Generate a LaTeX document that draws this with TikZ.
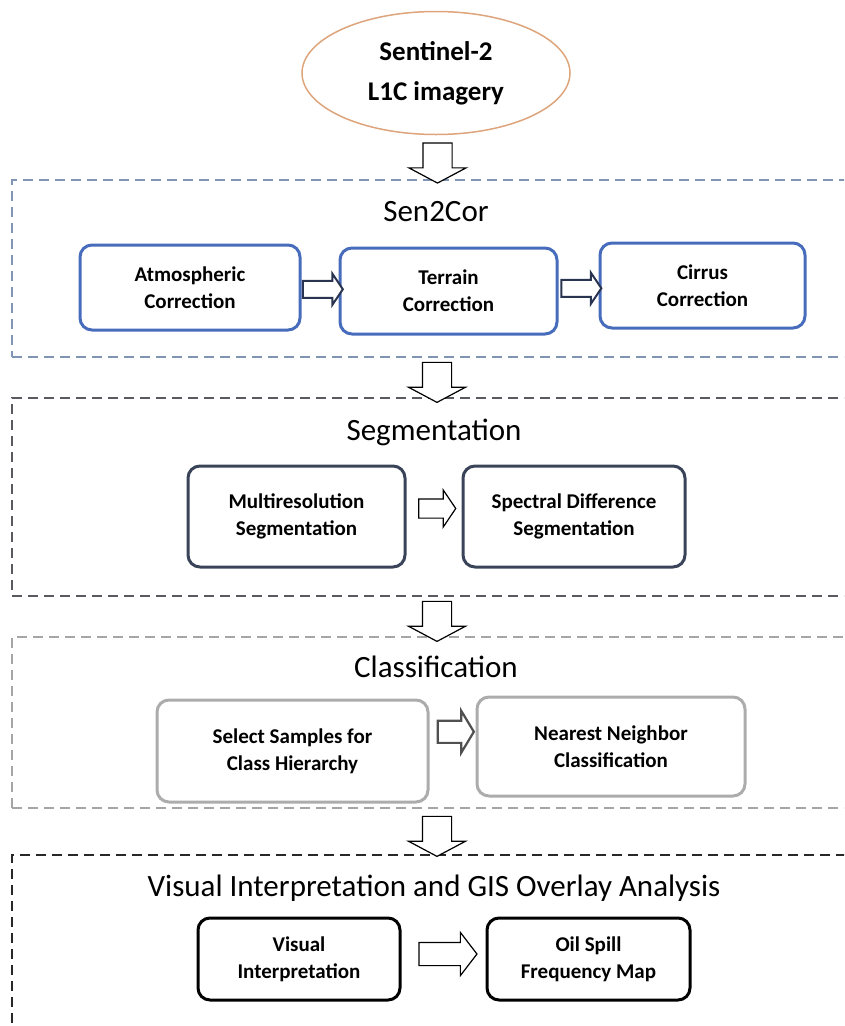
\documentclass[tikz,border=0pt]{standalone}
\usepackage{fontspec}
\setmainfont{Carlito}
\usetikzlibrary{shapes.geometric,shapes.arrows,calc}
\definecolor{ellc}{RGB}{222,164,124}
\definecolor{secA}{RGB}{128,148,180}
\definecolor{inA}{RGB}{72,108,188}
\definecolor{arrA}{RGB}{40,52,80}
\definecolor{secB}{RGB}{88,90,96}
\definecolor{inB}{RGB}{58,68,88}
\definecolor{secC}{RGB}{165,165,165}
\definecolor{inC}{RGB}{172,172,172}
\definecolor{arrC}{RGB}{80,80,80}
\definecolor{secD}{RGB}{40,40,40}
\newcommand{\shaft}[1]{\rule{0pt}{#1}}
\begin{document}
\begin{tikzpicture}[x=1pt,y=-1pt,
  secbox/.style={draw, dash pattern=on 10pt off 6pt, line width=1.8pt, inner sep=0pt},
  sectitle/.style={font=\fontsize{31}{36}\selectfont, inner sep=0pt},
  inbox/.style={draw, rounded corners=12pt, line width=3pt, fill=white, align=center,
     font=\fontsize{21}{27}\selectfont\bfseries, inner sep=0pt},
  downarr/.style={single arrow, draw=black, fill=white, line width=1.2pt, rotate=-90,
     minimum height=40pt, single arrow head extend=14pt,
     single arrow tip angle=124, inner sep=0pt},
  rarr/.style={single arrow, fill=white, inner sep=0pt}
]
\useasboundingbox (0,0) rectangle (844,1026);
\clip (0,0) rectangle (844,1026);

% source ellipse
\node[ellipse, draw=ellc, line width=1.5pt, fill=white, minimum width=268pt, minimum height=123pt,
      align=center, font=\fontsize{27}{40}\selectfont\bfseries, inner sep=0pt] (src) at (436,73)
      {Sentinel-2\\L1C imagery};

% sections
\node[secbox, draw=secA, minimum width=850pt, minimum height=177pt] (sec1) at (437,268.5) {};
\node[secbox, draw=secB, minimum width=850pt, minimum height=198pt] (sec2) at (437,497) {};
\node[secbox, draw=secC, minimum width=850pt, minimum height=171pt] (sec3) at (437,722.5) {};
\node[secbox, draw=secD, minimum width=850pt, minimum height=190pt] (sec4) at (437,950) {};

% titles
\node[sectitle] (t1) at (436,212) {Sen2Cor};
\node[sectitle] (t2) at (434,432) {Segmentation};
\node[sectitle] (t3) at (436,667) {Classification};
\node[sectitle] (t4) at (434,888) {Visual Interpretation and GIS Overlay Analysis};

% Sen2Cor boxes
\node[inbox, draw=inA, minimum width=220pt, minimum height=85pt] (atm) at (190,287.5) {Atmospheric\\Correction};
\node[inbox, draw=inA, minimum width=217pt, minimum height=86pt] (ter) at (448.5,291) {Terrain\\Correction};
\node[inbox, draw=inA, minimum width=205pt, minimum height=85pt] (cir) at (702.5,285.5) {Cirrus\\Correction};

% Segmentation boxes
\node[inbox, draw=inB, minimum width=217pt, minimum height=101pt] (mul) at (296.5,516.5) {Multiresolution\\Segmentation};
\node[inbox, draw=inB, minimum width=222pt, minimum height=101pt] (spe) at (574,516.5) {Spectral Difference\\Segmentation};

% Classification boxes
\node[inbox, draw=inC, minimum width=271pt, minimum height=102pt] (sel) at (292.5,751) {Select Samples for\\Class Hierarchy};
\node[inbox, draw=inC, minimum width=268pt, minimum height=99pt] (nn) at (611,746.5) {Nearest Neighbor\\Classification};

% Visual boxes
\node[inbox, draw=black, minimum width=202pt, minimum height=82pt] (vis) at (299,959) {Visual\\Interpretation};
\node[inbox, draw=black, minimum width=203pt, minimum height=82pt] (oil) at (588.5,959) {Oil Spill\\Frequency Map};

% vertical block arrows between stages
\node[downarr] (d1) at ($(src.south)!0.5!(sec1.north)+(1,2)$) {\shaft{28pt}};
\node[downarr] (d2) at ($(sec1.south)!0.5!(sec2.north)+(0,1)$) {\shaft{28pt}};
\node[downarr] (d3) at ($(sec2.south)!0.5!(sec3.north)+(0,1)$) {\shaft{28pt}};
\node[downarr] (d4) at ($(sec3.south)!0.5!(sec4.north)+(0,1)$) {\shaft{28pt}};

% horizontal block arrows
\node[rarr, draw=arrA, line width=2pt, minimum height=40pt,
      single arrow head extend=7pt, single arrow tip angle=112] (h1) at ($(atm.east)!0.5!(ter.west)$) {\shaft{15pt}};
\node[rarr, draw=arrA, line width=2pt, minimum height=40pt,
      single arrow head extend=7pt, single arrow tip angle=112] (h2) at ($(ter.east)!0.5!(cir.west)$) {\shaft{15pt}};
\node[rarr, draw=black, line width=1.2pt, minimum height=37pt,
      single arrow head extend=9pt, single arrow tip angle=112] (h3) at ($(mul.east)!0.5!(spe.west)+(0,-8)$) {\shaft{18pt}};
\node[rarr, draw=arrC, line width=2.2pt, minimum height=36pt,
      single arrow head extend=10pt, single arrow tip angle=118] (h4) at ($(sel.east)!0.5!(nn.west)+(0,-17)$) {\shaft{20pt}};
\node[rarr, draw=black, line width=1.2pt, minimum height=58pt,
      single arrow head extend=10pt, single arrow tip angle=105] (h5) at ($(vis.east)!0.5!(oil.west)+(0,-5)$) {\shaft{22pt}};
\end{tikzpicture}
\end{document}
